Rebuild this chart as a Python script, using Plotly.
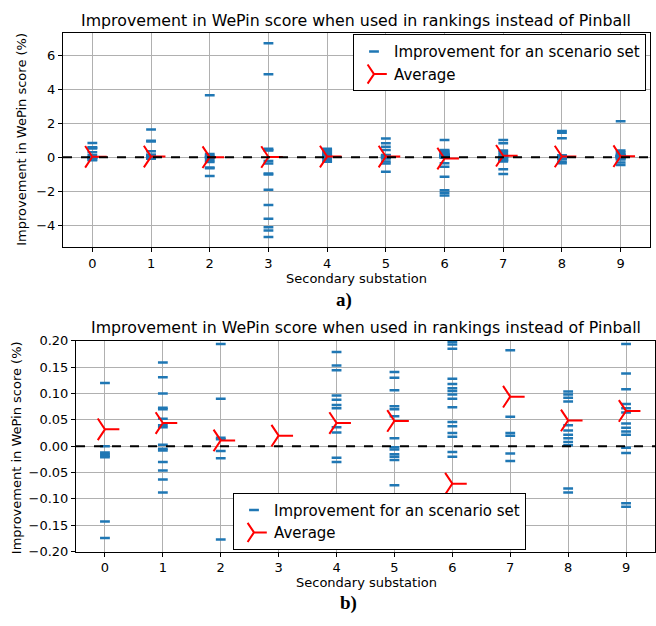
import plotly.graph_objects as go

W, H = 656, 626

substations = list(range(10))

s0 = [0.85, 0.60, 0.56, 0.52, 0.30, 0.12, 0.0, -0.012, -0.015, -0.018, -0.021, -0.143, -0.174]
s1 = [1.65, 0.98, 0.93, 0.36, 0.159, 0.131, 0.100, 0.073, 0.070, 0.052, 0.040, 0.036, 0.003,
      -0.005, -0.008, -0.030, -0.046, -0.063, -0.088]
s2 = [3.67, 0.194, 0.090, 0.016, 0.013, -0.009, -0.023, -0.177, -0.27, -0.60, -0.65, -1.10]
s3 = [6.74, 4.90, 0.50, 0.44, 0.40, -0.21, -0.37, -0.95, -1.02, -1.92, -2.82, -3.63, -4.13, -4.32, -4.71]
s4 = [0.50, 0.45, 0.38, 0.30, 0.24, 0.179, 0.153, 0.144, 0.096, 0.088, 0.078, 0.072, 0.036, 0.026,
      -0.022, -0.030, -0.096, -0.21, -0.26]
s5 = [4.15, 1.11, 0.83, 0.63, 0.44, 0.141, 0.130, 0.106, 0.076, 0.070, 0.057, 0.015, -0.002, -0.006,
      -0.015, -0.020, -0.026, -0.074, -0.25, -0.37, -0.85]
s6 = [1.02, 0.44, 0.38, 0.30, 0.25, 0.198, 0.193, 0.185, 0.128, 0.118, 0.110, 0.105, 0.098, 0.090,
      0.074, 0.046, 0.038, 0.025, 0.018, -0.011, -0.020, -0.35, -0.56, -1.15, -1.94, -2.09, -2.25]
s7 = [1.02, 0.83, 0.40, 0.31, 0.182, 0.056, 0.025, 0.020, -0.014, -0.028, -0.135, -0.168, -0.172,
      -0.25, -0.71, -0.98]
s8 = [1.55, 1.45, 1.13, 0.104, 0.098, 0.092, 0.085, 0.040, 0.030, 0.022, 0.015, 0.008, 0.002,
      -0.080, -0.088, -0.25, -0.35]
s9 = [2.13, 0.40, 0.30, 0.194, 0.138, 0.108, 0.080, 0.072, 0.064, 0.043, 0.035, 0.028, 0.022,
      -0.003, -0.013, -0.108, -0.115, -0.30, -0.45]

averages = [0.032, 0.044, 0.011, 0.020, 0.044, 0.048, -0.071, 0.094, 0.049, 0.067]

title_text = "Improvement in WePin score when used in rankings instead of Pinball"
xlabel = "Secondary substation"
ylabel = "Improvement in WePin score (%)"
legend_imp = "Improvement for an scenario set"
legend_avg = "Average"

all_sets = [s0, s1, s2, s3, s4, s5, s6, s7, s8, s9]
px_x, px_y = [], []
for k, vals in zip(substations, all_sets):
    px_x += [k] * len(vals)
    px_y += vals

BLUE = "#1f77b4"
RED = "#ff0000"
FONT = "DejaVu Sans"

fig = go.Figure()

for i, (xa, ya, leg) in enumerate([("x", "y", "legend"), ("x2", "y2", "legend2")]):
    fig.add_trace(go.Scatter(
        x=px_x, y=px_y, mode="markers", xaxis=xa, yaxis=ya, legend=leg,
        name=legend_imp,
        marker=dict(symbol="line-ew", size=7, color=BLUE, line=dict(color=BLUE, width=2.5)),
    ))
    fig.add_trace(go.Scatter(
        x=substations, y=averages, mode="markers", xaxis=xa, yaxis=ya, legend=leg,
        name=legend_avg,
        marker=dict(symbol="y-right", size=18, color=RED, line=dict(color=RED, width=2)),
    ))
    fig.add_shape(type="line", xref=xa + " domain", yref=ya, x0=0, x1=1, y0=0, y1=0,
                  line=dict(color="black", width=2, dash="dash"), layer="above")

axis_common = dict(
    showgrid=True, gridcolor="#b0b0b0", gridwidth=1,
    showline=True, mirror=True, linecolor="black", linewidth=1,
    ticks="outside", ticklen=4, tickcolor="black",
    zeroline=False, tickfont=dict(family=FONT, size=13, color="black"),
)

top_dom_y = [1 - 246 / H, 1 - 27 / H]
bot_dom_y = [1 - 558 / H, 1 - 342 / H]

leg_common = dict(bordercolor="black", borderwidth=1, bgcolor="white",
                  font=dict(family=FONT, size=15), tracegroupgap=0, itemwidth=30)

fig.update_layout(
    width=W, height=H, margin=dict(l=0, r=0, t=0, b=0),
    paper_bgcolor="white", plot_bgcolor="white",
    font=dict(family=FONT, size=13, color="black"),
    xaxis=dict(domain=[63 / W, 650 / W], range=[-0.5, 9.5], tickvals=substations,
               anchor="y", **axis_common),
    yaxis=dict(domain=top_dom_y, range=[-5.3, 7.32], dtick=2, anchor="x", **axis_common),
    xaxis2=dict(domain=[76 / W, 655 / W], range=[-0.5, 9.5], tickvals=substations,
                anchor="y2", **axis_common),
    yaxis2=dict(domain=bot_dom_y, range=[-0.2, 0.2], dtick=0.05, tickformat=".2f",
                anchor="x2", **axis_common),
    legend=dict(x=646 / W, xanchor="right", y=1 - 28 / H, yanchor="top", **leg_common),
    legend2=dict(x=233 / W, xanchor="left", y=1 - 556 / H, yanchor="bottom", **leg_common),
    showlegend=True,
)

ann = []
ann.append(dict(text=title_text, x=356 / W, y=1 - 14 / H, font=dict(size=15.8)))
ann.append(dict(text=title_text, x=366 / W, y=1 - 328 / H, font=dict(size=15.8)))
ann.append(dict(text=xlabel, x=356 / W, y=1 - 278 / H, font=dict(size=13)))
ann.append(dict(text=xlabel, x=366 / W, y=1 - 590 / H, font=dict(size=13)))
ann.append(dict(text=ylabel, x=22 / W, y=1 - 136 / H, textangle=-90, font=dict(size=13)))
ann.append(dict(text=ylabel, x=16 / W, y=1 - 452 / H, textangle=-90, font=dict(size=13)))
ann.append(dict(text="<b>a)</b>", x=344 / W, y=1 - 300 / H,
                font=dict(family="Liberation Serif", size=19)))
ann.append(dict(text="<b>b)</b>", x=348 / W, y=1 - 611 / H,
                font=dict(family="Liberation Serif", size=19)))
for a in ann:
    a.update(xref="paper", yref="paper", showarrow=False, xanchor="center", yanchor="middle")
    f = a["font"]
    f.setdefault("family", FONT)
    f.setdefault("color", "black")
fig.update_layout(annotations=ann)

fig.write_html("out.html")
